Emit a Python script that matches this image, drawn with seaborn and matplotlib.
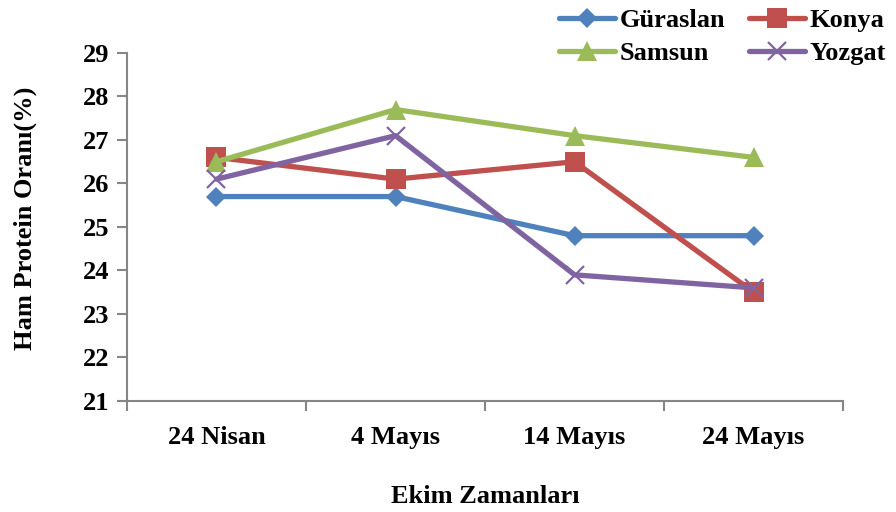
import pandas as pd
import seaborn as sns
import matplotlib.pyplot as plt
from matplotlib.ticker import FixedLocator

# data
dates = ['24 Nisan', '4 Mayıs', '14 Mayıs', '24 Mayıs']
guraslan = [25.7, 25.7, 24.8, 24.8]
konya = [26.6, 26.1, 26.5, 23.5]
samsun = [26.5, 27.7, 27.1, 26.6]
yozgat = [26.1, 27.1, 23.9, 23.6]

series = {'Güraslan': guraslan, 'Konya': konya,
          'Samsun': samsun, 'Yozgat': yozgat}
colors = {'Güraslan': '#4F81BD', 'Konya': '#C0504D',
          'Samsun': '#9BBB59', 'Yozgat': '#8064A2'}
markers = {'Güraslan': 'D', 'Konya': 's', 'Samsun': '^', 'Yozgat': 'x'}
sizes = {'Güraslan': 10, 'Konya': 14, 'Samsun': 14, 'Yozgat': 13}

df = pd.concat([pd.DataFrame({'Tarih': dates, 'Deger': v, 'Cesit': k})
                for k, v in series.items()])

sns.set_style('white')
plt.rcParams['font.family'] = ['Liberation Serif', 'DejaVu Serif']
plt.rcParams['font.weight'] = 'bold'
plt.rcParams['text.color'] = 'black'
plt.rcParams['axes.labelcolor'] = 'black'
plt.rcParams['xtick.color'] = 'black'
plt.rcParams['ytick.color'] = 'black'

fig = plt.figure(figsize=(8.96, 5.12), dpi=100)
ax = fig.add_axes([0.1417, 0.2168, 0.7993, 0.6797])

for name, vals in series.items():
    sub = df[df['Cesit'] == name]
    sns.lineplot(data=sub, x='Tarih', y='Deger', ax=ax, color=colors[name],
                 linewidth=3.8, marker=markers[name], markersize=sizes[name],
                 markeredgewidth=1.6 if name == 'Yozgat' else 0,
                 markeredgecolor=colors[name], label=name, sort=False)

ax.set_ylim(21, 29)
ax.set_xlim(-0.5, 3.5)
ax.set_yticks(range(21, 30))
ax.set_xticks(range(len(dates)))
ax.set_xticklabels(dates)
ax.xaxis.set_minor_locator(FixedLocator([-0.5, 0.5, 1.5, 2.5, 3.5]))
ax.tick_params(axis='x', which='major', length=0, pad=18, labelsize=19)
ax.tick_params(axis='x', which='minor', length=7, width=1.5, color='#868686',
               direction='out', bottom=True)
ax.tick_params(axis='y', length=7, width=1.5, color='#868686', direction='out',
               left=True, pad=6, labelsize=19, labelcolor='black')
ax.tick_params(axis='x', labelcolor='black')
for lab in ax.get_xticklabels() + ax.get_yticklabels():
    lab.set_fontweight('bold')

sns.despine(ax=ax)
for s in ['left', 'bottom']:
    ax.spines[s].set_color('#868686')
    ax.spines[s].set_linewidth(1.5)

ax.set_xlabel('Ekim Zamanları', fontsize=19, fontweight='bold', labelpad=26)
ax.set_ylabel('Ham Protein Oranı(%)', fontsize=19, fontweight='bold')
ax.yaxis.set_label_coords(-0.125, 0.526)

# row-wise legend order: Güraslan, Konya / Samsun, Yozgat
handles, labels = ax.get_legend_handles_labels()
order = [0, 2, 1, 3]
ax.legend([handles[i] for i in order], [labels[i] for i in order],
          loc='lower right', bbox_to_anchor=(1.075, 0.935), ncol=2,
          frameon=False, prop={'weight': 'bold', 'size': 19},
          handlelength=2.1, columnspacing=0.9, handletextpad=0.2,
          labelspacing=0.35, borderaxespad=0)

fig.savefig('out.png', dpi=100)
